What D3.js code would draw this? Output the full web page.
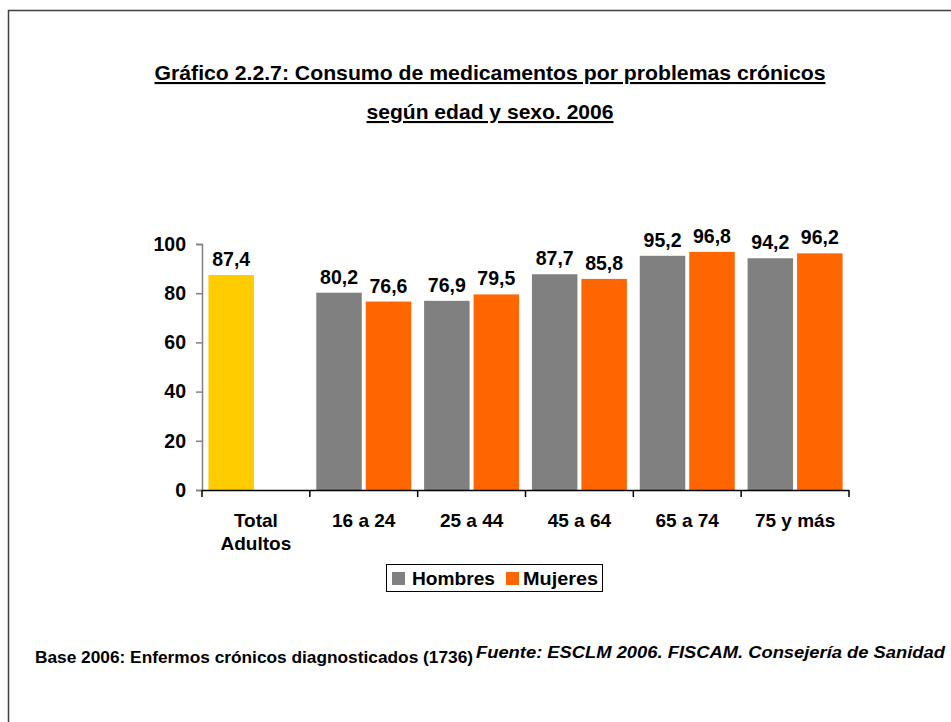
<!DOCTYPE html>
<html><head><meta charset="utf-8">
<script src="https://cdn.jsdelivr.net/npm/d3@7"></script>
<style>
body{margin:0;background:#fff;}
text{font-family:"Liberation Sans",Arial,sans-serif;}
</style></head>
<body>
<svg id="chart" width="951" height="722"></svg>
<script>
const categories = ["Total Adultos","16 a 24","25 a 44","45 a 64","65 a 74","75 y más"];
const totalValues = [87.4, null, null, null, null, null];
const hombres = [null, 80.2, 76.9, 87.7, 95.2, 94.2];
const mujeres = [null, 76.6, 79.5, 85.8, 96.8, 96.2];
const yTicks = [0,20,40,60,80,100];
const seriesNames = ["Hombres","Mujeres"];
const colors = {total:"#FFCC00", Hombres:"#808080", Mujeres:"#FF6600"};

const svg = d3.select("#chart");
svg.append("rect").attr("width",951).attr("height",722).attr("fill","#fff");
// frame
svg.append("path").attr("d","M8.5,722 V10.5 H951").attr("fill","none").attr("stroke","#404040").attr("stroke-width",1.5);

// title
svg.append("text").attr("x",490).attr("y",80).attr("text-anchor","middle")
  .attr("font-size",21).attr("font-weight","bold").attr("text-decoration","underline")
  .attr("textLength",671).attr("lengthAdjust","spacingAndGlyphs")
  .text("Gráfico 2.2.7: Consumo de medicamentos por problemas crónicos");
svg.append("text").attr("x",490).attr("y",119).attr("text-anchor","middle")
  .attr("font-size",21).attr("font-weight","bold").attr("text-decoration","underline")
  .attr("textLength",247).attr("lengthAdjust","spacingAndGlyphs")
  .text("según edad y sexo. 2006");

const x0 = d3.scaleBand().domain(categories).range([202,849]).paddingInner(0).paddingOuter(0);
const x1 = d3.scaleBand().domain(seriesNames).range([0,x0.bandwidth()]).paddingInner(0.08).paddingOuter(0.13);
const y = d3.scaleLinear().domain([0,100]).range([490,244]);

// y axis
const yAxis = svg.append("g").attr("transform","translate(202,0)")
  .call(d3.axisLeft(y).tickValues(yTicks).tickSize(6).tickPadding(10).tickFormat(d3.format("d")));
yAxis.select(".domain").attr("stroke","#808080").attr("stroke-width",1.5);
yAxis.selectAll(".tick line").attr("stroke","#808080").attr("stroke-width",1.5);
yAxis.selectAll(".tick text").attr("font-size",19.5).attr("font-weight","bold").attr("fill","#000")
  .attr("font-family","'Liberation Sans',Arial,sans-serif");

const fmt = v => d3.format(".1f")(v).replace(".",",");

const bars = [];
categories.forEach((c,i)=>{
  if(totalValues[i]!=null) bars.push({cat:c, s:"Hombres", v:totalValues[i], color:colors.total});
  if(hombres[i]!=null) bars.push({cat:c, s:"Hombres", v:hombres[i], color:colors.Hombres});
  if(mujeres[i]!=null) bars.push({cat:c, s:"Mujeres", v:mujeres[i], color:colors.Mujeres});
});
svg.selectAll("rect.bar").data(bars).join("rect").attr("class","bar")
  .attr("x",d=>x0(d.cat)+x1(d.s)).attr("width",x1.bandwidth())
  .attr("y",d=>y(d.v)).attr("height",d=>y(0)-y(d.v)).attr("fill",d=>d.color);
svg.selectAll("text.val").data(bars).join("text").attr("class","val")
  .attr("x",d=>x0(d.cat)+x1(d.s)+x1.bandwidth()/2).attr("y",d=>y(d.v)-9)
  .attr("text-anchor","middle").attr("font-size",19.5).attr("font-weight","bold").text(d=>fmt(d.v));

// x axis
const xg = svg.append("g");
xg.append("line").attr("x1",202).attr("x2",849).attr("y1",490.5).attr("y2",490.5).attr("stroke","#000").attr("stroke-width",1.5);
const bounds = categories.map(c=>x0(c)).concat([x0.range()[1]]);
xg.selectAll("line.tk").data(bounds).join("line").attr("class","tk")
  .attr("x1",d=>d).attr("x2",d=>d).attr("y1",490).attr("y2",497).attr("stroke","#000").attr("stroke-width",1.5);
categories.forEach(c=>{
  const words = c==="Total Adultos" ? ["Total","Adultos"] : [c];
  const t = xg.append("text").attr("text-anchor","middle").attr("font-size",19).attr("font-weight","bold")
    .attr("x",x0(c)+x0.bandwidth()/2).attr("y",527);
  words.forEach((w,k)=>t.append("tspan").attr("x",x0(c)+x0.bandwidth()/2).attr("dy",k?23:0).text(w));
});

// legend
const lg = svg.append("g");
lg.append("rect").attr("x",386.5).attr("y",564.5).attr("width",216).attr("height",27)
  .attr("fill","#fff").attr("stroke","#000").attr("stroke-width",1);
const legItems = [{n:"Hombres",sx:392,tx:412,w:83},{n:"Mujeres",sx:506,tx:523,w:75}];
legItems.forEach(it=>{
  lg.append("rect").attr("x",it.sx).attr("y",572).attr("width",13).attr("height",13).attr("fill",colors[it.n]);
  lg.append("text").attr("x",it.tx).attr("y",585).attr("font-size",19).attr("font-weight","bold")
    .attr("textLength",it.w).attr("lengthAdjust","spacingAndGlyphs").text(it.n);
});

// footer
svg.append("text").attr("x",35).attr("y",663).attr("font-size",16).attr("font-weight","bold")
  .attr("textLength",438).attr("lengthAdjust","spacingAndGlyphs")
  .text("Base 2006: Enfermos crónicos diagnosticados (1736)");
svg.append("text").attr("x",476).attr("y",658).attr("font-size",16).attr("font-weight","bold").attr("font-style","italic")
  .attr("textLength",469).attr("lengthAdjust","spacingAndGlyphs")
  .text("Fuente: ESCLM 2006. FISCAM. Consejería de Sanidad");
</script>
</body></html>
